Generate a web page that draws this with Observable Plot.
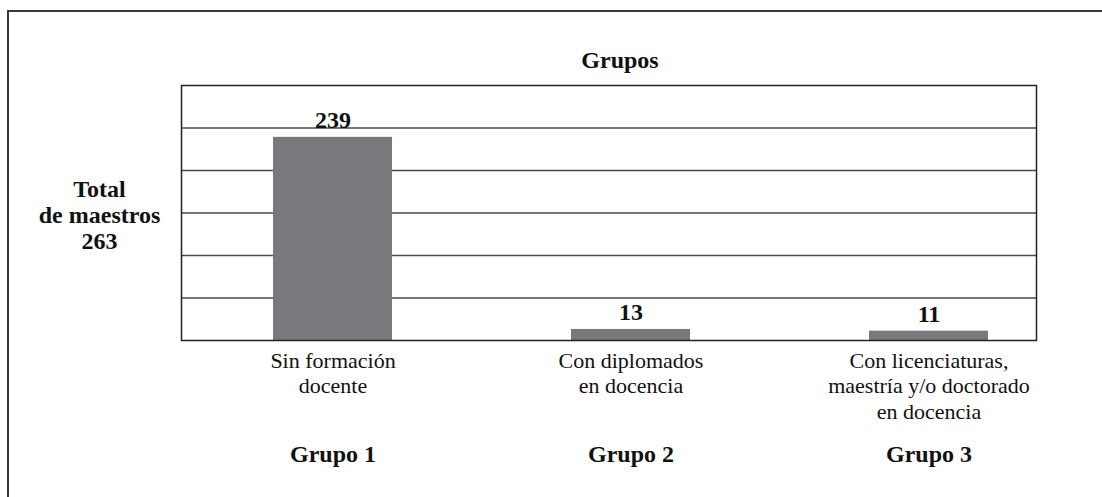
<!DOCTYPE html>
<html>
<head>
<meta charset="utf-8">
<script src="https://cdn.jsdelivr.net/npm/d3@7"></script>
<script src="https://cdn.jsdelivr.net/npm/@observablehq/plot@0.6"></script>
<style>
  html, body { margin: 0; padding: 0; background: #fff; }
  #wrap { position: relative; width: 1102px; height: 497px; overflow: hidden; }
  #border { position: absolute; left: 6.5px; top: 10px; right: -20px; bottom: -20px;
            border-left: 2px solid #3a3a3a; border-top: 2px solid #3a3a3a; z-index: 2; pointer-events: none; }
  #chart { position: absolute; left: 0; top: 0; }
</style>
</head>
<body>
<div id="wrap"><div id="border"></div><div id="chart"></div></div>
<script>
const grupos = ["Grupo 1", "Grupo 2", "Grupo 3"];
const descripciones = [
  "Sin formación\ndocente",
  "Con diplomados\nen docencia",
  "Con licenciaturas,\nmaestría y/o doctorado\nen docencia"
];
const maestros = [239, 13, 11];
const gridTicks = [50, 100, 150, 200, 250];
const tituloGrupos = "Grupos";
const tituloTotal = "Total\nde maestros\n263";

const data = grupos.map((g, i) => ({grupo: g, desc: descripciones[i], valor: maestros[i]}));
const font = "Liberation Serif";

const chart = Plot.plot({
  width: 1102,
  height: 497,
  marginLeft: 181,
  marginRight: 66,
  marginTop: 85,
  marginBottom: 157,
  style: "background: transparent; color: #111; font-family: 'Liberation Serif', serif;",
  x: {domain: grupos, range: [183.6, 1078.2], paddingInner: 0.6, paddingOuter: 0.3, label: null},
  y: {domain: [0, 300], axis: null},
  marks: [
    Plot.gridY(gridTicks, {stroke: "#4a4a4a", strokeOpacity: 1, strokeWidth: 1.3}),
    Plot.barY(data, {x: "grupo", y: "valor", fill: "#78797d"}),
    Plot.frame({stroke: "#222", strokeWidth: 1.5}),
    Plot.axisX({
      tickSize: 0, tickPadding: 9, fontSize: 22, lineHeight: 1.16, fontFamily: font,
      tickFormat: d => descripciones[grupos.indexOf(d)], fill: "#111"
    }),
    Plot.text(data, {x: "grupo", y: "valor", text: d => String(d.valor), lineAnchor: "bottom",
      dy: -9, fontSize: 24, fontWeight: "bold", fontFamily: font, fill: "#111"}),
    Plot.text(data, {x: "grupo", text: "grupo", frameAnchor: "bottom", lineAnchor: "middle",
      dy: 114.3, fontSize: 24, fontWeight: "bold", fontFamily: font, fill: "#111"}),
    Plot.text([tituloGrupos], {frameAnchor: "top", lineAnchor: "middle", dy: -24.7, dx: 11,
      fontSize: 24, fontWeight: "bold", fontFamily: font, fill: "#111"}),
    Plot.text([tituloTotal], {frameAnchor: "left", textAnchor: "middle", lineAnchor: "middle",
      dx: -82, dy: 1.5, lineHeight: 1.09, fontSize: 24, fontWeight: "bold", fontFamily: font, fill: "#111"})
  ]
});
document.getElementById("chart").appendChild(chart);
</script>
</body>
</html>
